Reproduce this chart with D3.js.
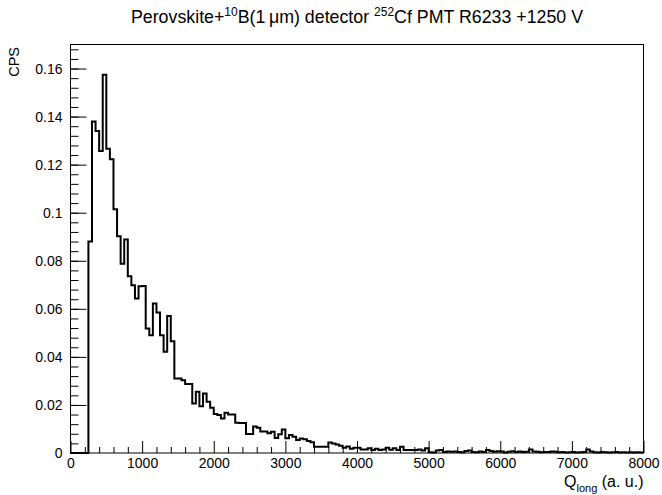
<!DOCTYPE html>
<html>
<head>
<meta charset="utf-8">
<script src="https://cdn.jsdelivr.net/npm/d3@7"></script>
<style>
  body { margin: 0; background: #fff; }
  svg { display: block; font-family: "Liberation Sans", Arial, Helvetica, sans-serif; }
  svg text { fill: #000; }
  .tick text { font-size: 14px; fill: #000; }
</style>
</head>
<body>
<div id="chart"></div>
<script>
// histogram: 160 bins of 50 a.u. from 0 to 8000
const binLow = 0;
const binWidth = 50;
const counts = [
  0, 0, 0, 0, 0, 0.088, 0.138, 0.134, 0.1257, 0.1574,
  0.1266, 0.1222, 0.1014, 0.0902, 0.0788, 0.0889, 0.0736, 0.0698, 0.0643, 0.0694,
  0.0695, 0.0518, 0.0490, 0.0622, 0.0585, 0.0490, 0.0421, 0.0570, 0.0465, 0.0310,
  0.0310, 0.0303, 0.0287, 0.0287, 0.0206, 0.0255, 0.0195, 0.0248, 0.0213, 0.0188,
  0.0162, 0.0158, 0.0144, 0.0168, 0.0160, 0.0160, 0.0126, 0.0125, 0.0125, 0.0079,
  0.0079, 0.0110, 0.0105, 0.0089, 0.0089, 0.0082, 0.0088, 0.0062, 0.0078, 0.0098,
  0.0061, 0.0075, 0.0068, 0.0054, 0.0060, 0.0057, 0.0050, 0.0045, 0.0026, 0.0026,
  0.0026, 0.0026, 0.0044, 0.0040, 0.0035, 0.0030, 0.0022, 0.0027, 0.0018, 0.0022,
  0.0022, 0.0015, 0.0015, 0.0020, 0.0012, 0.0018, 0.0012, 0.0015, 0.0022, 0.0014,
  0.0020, 0.0012, 0.0026, 0.0013, 0.0013, 0.0013, 0.0013, 0.0015, 0.0010, 0.0020,
  0.0003, 0.0002, 0.0010, 0.0012, 0.0004, 0.0006, 0.0005, 0.0006, 0.0004, 0.0003,
  0.0008, 0.0010, 0.0004, 0.0003, 0.0006, 0.0004, 0.0012, 0.0008, 0.0005, 0.0007,
  0.0006, 0.0002, 0.0005, 0.0007, 0.0004, 0.0006, 0.0004, 0.0005, 0.0015, 0.0006,
  0.0005, 0.0003, 0.0004, 0.0004, 0.0006, 0.0005, 0.0003, 0.0004, 0.0002, 0.0003,
  0.0004, 0.0002, 0.0003, 0.0004, 0.0015, 0.0006, 0.0003, 0.0002, 0.0004, 0.0003,
  0.0002, 0.0003, 0.0004, 0.0002, 0.0003, 0.0002, 0.0003, 0.0002, 0.0003, 0.0002
];

const xTicks = [0, 1000, 2000, 3000, 4000, 5000, 6000, 7000, 8000];
const xTickLabels = ["0", "1000", "2000", "3000", "4000", "5000", "6000", "7000", "8000"];
const yTicks = [0, 0.02, 0.04, 0.06, 0.08, 0.1, 0.12, 0.14, 0.16];
const yTickLabels = ["0", "0.02", "0.04", "0.06", "0.08", "0.1", "0.12", "0.14", "0.16"];

const width = 662;
const height = 495;
const frame = { left: 70.5, right: 643.5, top: 44.5, bottom: 453 };

const x = d3.scaleLinear().domain([0, 8000]).range([frame.left, frame.right]);
const y = d3.scaleLinear().domain([0, 0.17]).range([frame.bottom, frame.top]);

const svg = d3.select("#chart")
  .append("svg")
  .attr("width", width)
  .attr("height", height);

// minor ticks
const xMinor = d3.range(0, 8001, 200).filter(v => v % 1000 !== 0);
const yMinor = d3.range(0, 43).map(i => i * 0.004).filter(v => v <= 0.17);

svg.append("g")
  .attr("transform", `translate(0,${frame.bottom})`)
  .call(d3.axisBottom(x).tickValues(xMinor).tickSize(-6).tickFormat(""))
  .call(g => g.select(".domain").remove());

svg.append("g")
  .attr("transform", `translate(${frame.left},0)`)
  .call(d3.axisLeft(y).tickValues(yMinor).tickSize(-8).tickFormat(""))
  .call(g => g.select(".domain").remove());

// major ticks
svg.append("g")
  .attr("transform", `translate(0,${frame.bottom})`)
  .call(d3.axisBottom(x).tickValues(xTicks).tickSize(-12).tickPadding(5)
    .tickFormat((d, i) => xTickLabels[i]))
  .call(g => g.select(".domain").remove());

svg.append("g")
  .attr("transform", `translate(${frame.left},0)`)
  .call(d3.axisLeft(y).tickValues(yTicks).tickSize(-16).tickPadding(8)
    .tickFormat((d, i) => yTickLabels[i]))
  .call(g => g.select(".domain").remove());

svg.selectAll(".tick line").attr("stroke", "#000");

// histogram outline
const pts = counts.map((c, i) => [binLow + i * binWidth, c]);
pts.push([binLow + counts.length * binWidth, counts[counts.length - 1]]);

const histLine = d3.line()
  .x(d => x(d[0]))
  .y(d => y(d[1]))
  .curve(d3.curveStepAfter);

svg.append("path")
  .attr("d", histLine(pts))
  .attr("fill", "none")
  .attr("stroke", "#000")
  .attr("stroke-width", 2)
  .attr("stroke-linejoin", "miter");

// frame
svg.append("rect")
  .attr("x", frame.left)
  .attr("y", frame.top)
  .attr("width", frame.right - frame.left)
  .attr("height", frame.bottom - frame.top)
  .attr("fill", "none")
  .attr("stroke", "#000")
  .attr("stroke-width", 1);

// title
const title = svg.append("text")
  .attr("x", 357)
  .attr("y", 23)
  .attr("text-anchor", "middle")
  .attr("font-size", 17.8);
title.append("tspan").text("Perovskite+");
title.append("tspan").attr("font-size", 12).attr("dy", -7).text("10");
title.append("tspan").attr("dy", 7).text("B(1\u2009\u03bcm) detector ");
title.append("tspan").attr("font-size", 12).attr("dy", -7).text("252");
title.append("tspan").attr("dy", 7).text("Cf PMT R6233 +1250 V");

// axis titles
svg.append("text")
  .attr("transform", "translate(19,47) rotate(-90)")
  .attr("text-anchor", "end")
  .attr("font-size", 14.5)
  .text("CPS");

const xt = svg.append("text")
  .attr("x", frame.right)
  .attr("y", 487)
  .attr("text-anchor", "end")
  .attr("font-size", 16);
xt.append("tspan").text("Q");
xt.append("tspan").attr("font-size", 11).attr("dy", 5).text("long");
xt.append("tspan").attr("dy", -5).text(" (a. u.)");
</script>
</body>
</html>
